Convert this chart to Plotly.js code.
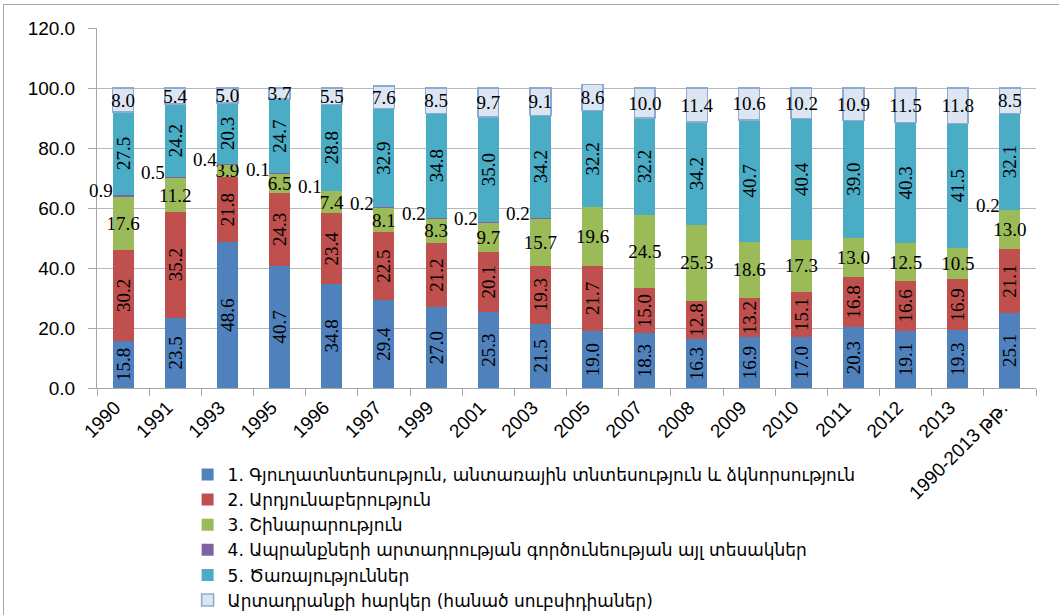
<!DOCTYPE html>
<html>
<head>
<meta charset="utf-8">
<script src="https://cdn.plot.ly/plotly-3.0.1.min.js"></script>
<style>
  body { margin: 0; background: #fff; }
  #chart { width: 1059px; height: 615px; }
  #frame { position: absolute; left: 3px; top: 4px; width: 1056px; height: 611px;
           border-left: 1px solid #a6a6a6; border-top: 1px solid #a6a6a6; pointer-events: none; }
</style>
</head>
<body>
<div id="chart"></div>
<div id="frame"></div>
<script>
const categories = ["1990","1991","1993","1995","1996","1997","1999","2001","2003","2005","2007","2008","2009","2010","2011","2012","2013","1990-2013 թթ."];
const agriculture  = [15.8,23.5,48.6,40.7,34.8,29.4,27.0,25.3,21.5,19.0,18.3,16.3,16.9,17.0,20.3,19.1,19.3,25.1];
const industry     = [30.2,35.2,21.8,24.3,23.4,22.5,21.2,20.1,19.3,21.7,15.0,12.8,13.2,15.1,16.8,16.6,16.9,21.1];
const construction = [17.6,11.2,3.9,6.5,7.4,8.1,8.3,9.7,15.7,19.6,24.5,25.3,18.6,17.3,13.0,12.5,10.5,13.0];
const otherGoods   = [0.9,0.5,0.4,0.1,0.1,0.2,0.2,0.2,0.2,0,0,0,0,0,0,0,0,0.2];
const services     = [27.5,24.2,20.3,24.7,28.8,32.9,34.8,35.0,34.2,32.2,32.2,34.2,40.7,40.4,39.0,40.3,41.5,32.1];
const taxes        = [8.0,5.4,5.0,3.7,5.5,7.6,8.5,9.7,9.1,8.6,10.0,11.4,10.6,10.2,10.9,11.5,11.8,8.5];

const names = [
  "1. Գյուղատնտեսություն, անտառային տնտեսություն և ձկնորսություն",
  "2. Արդյունաբերություն",
  "3. Շինարարություն",
  "4. Ապրանքների արտադրության գործունեության այլ տեսակներ",
  "5. Ծառայություններ",
  "Արտադրանքի հարկեր (հանած սուբսիդիաներ)"
];

const labelFont = {family: "Liberation Serif, DejaVu Serif, serif", size: 19, color: "#000"};
const fmt = v => v.toFixed(1);

function barTrace(vals, name, color, angle, extra) {
  return Object.assign({
    type: "bar", x: categories, y: vals, name: name,
    marker: {color: color},
    text: vals.map(fmt), textposition: "inside", insidetextanchor: "middle",
    textangle: angle, textfont: labelFont, constraintext: "none",
    hoverinfo: "skip"
  }, extra || {});
}

const traces = [
  barTrace(agriculture, names[0], "#4F81BD", -90),
  barTrace(industry, names[1], "#C0504D", -90),
  barTrace(construction, names[2], "#9BBB59", 0),
  Object.assign(barTrace(otherGoods, names[3], "#8064A2", 0), {text: otherGoods.map(() => ""), textposition: "none"}),
  barTrace(services, names[4], "#4BACC6", -90),
  barTrace(taxes, names[5], "#DCE6F2", 0, {marker: {color: "#DCE6F2", line: {color: "#8FAAD0", width: 1.5}}})
];

const annotations = [];
categories.forEach((c, i) => {
  if (otherGoods[i] > 0) {
    annotations.push({
      x: i, y: agriculture[i] + industry[i] + construction[i] + otherGoods[i],
      text: fmt(otherGoods[i]), showarrow: false,
      xanchor: "right", yanchor: "middle", xshift: -8, yshift: 4,
      font: labelFont
    });
  }
});

const layout = {
  width: 1059, height: 615,
  margin: {l: 97, r: 23, t: 28, b: 227, autoexpand: false},
  paper_bgcolor: "#fff", plot_bgcolor: "#fff",
  barmode: "stack", bargap: 0.6,
  showlegend: true,
  uniformtext: {mode: "show", minsize: 19},
  xaxis: {
    type: "category", range: [-0.5, categories.length - 0.5], autorange: false, automargin: false,
    tickangle: -45, tickfont: {family: "Liberation Sans, Arial, sans-serif", size: 19, color: "#000"},
    ticks: "outside", tickson: "boundaries", ticklen: 7, tickcolor: "#a6a6a6",
    ticklabelshift: -8,
    showline: true, linecolor: "#a6a6a6", linewidth: 1, showgrid: false,
    fixedrange: true
  },
  yaxis: {
    range: [0, 120], autorange: false, automargin: false, dtick: 20, tickformat: ".1f",
    tickfont: {family: "Liberation Sans, Arial, sans-serif", size: 19, color: "#000"},
    ticks: "outside", ticklen: 8, tickcolor: "#a6a6a6", ticklabelstandoff: 9,
    showline: true, linecolor: "#a6a6a6", linewidth: 1,
    showgrid: true, gridcolor: "#b8b8b8", gridwidth: 1, zeroline: false,
    fixedrange: true
  },
  legend: {
    x: 0.0965, xanchor: "left",
    yref: "container", y: 0.257, yanchor: "top",
    traceorder: "normal", orientation: "v",
    font: {family: "DejaVu Sans, sans-serif", size: 17, color: "#000"},
    bgcolor: "rgba(0,0,0,0)", tracegroupgap: 0
  },
  annotations: annotations
};

Plotly.newPlot("chart", traces, layout, {displayModeBar: false, staticPlot: true});
</script>
</body>
</html>
